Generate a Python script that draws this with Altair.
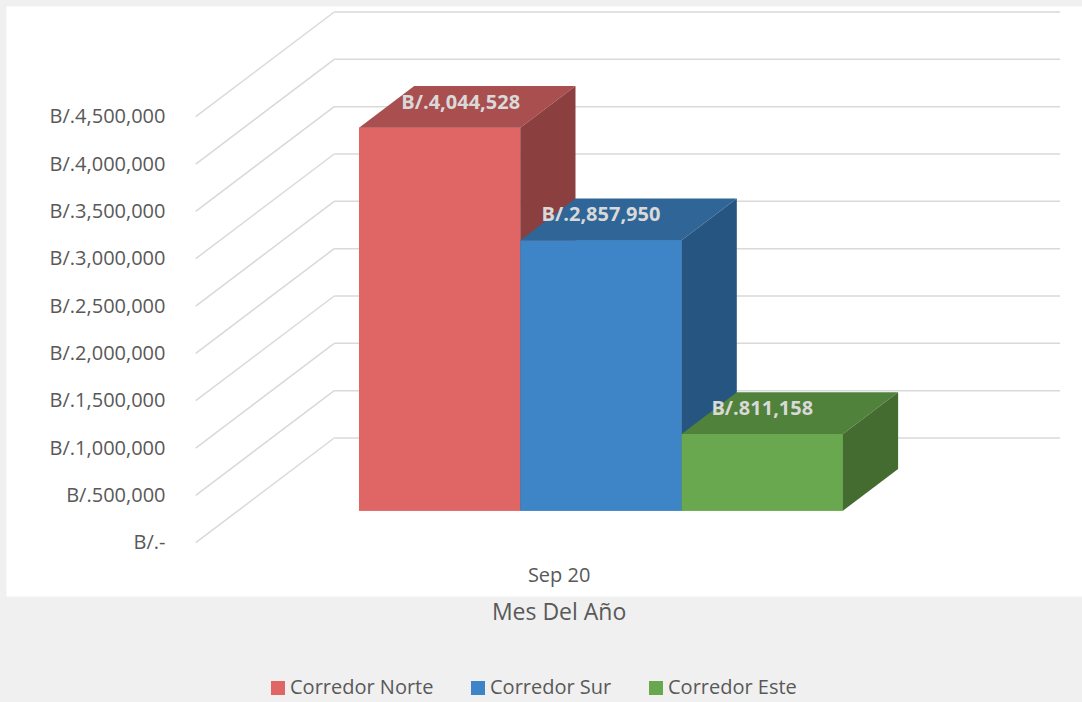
import altair as alt
import pandas as pd

# ---------------- data ----------------
series = ["Corredor Norte", "Corredor Sur", "Corredor Este"]
values = [4044528, 2857950, 811158]
month = "Sep 20"
y_ticks = [0, 500000, 1000000, 1500000, 2000000, 2500000, 3000000, 3500000, 4000000, 4500000]
front_colors = ["#E06666", "#3D85C6", "#6AA84F"]
top_colors = ["#A94F4F", "#2F6697", "#51823B"]
side_colors = ["#8C3F3F", "#265581", "#446C31"]

# ---------------- 3D projection geometry ----------------
W, H = 1076, 590
PX_PER_UNIT = 161.3            # pixels per bar width
PX_PER_VAL = 94.667 / 1e6      # pixels per value unit
DX = 138.5 / PX_PER_UNIT       # full depth, x units
DY = 104.7 / PX_PER_VAL        # full depth, value units
D1, D2 = 0.3056, 0.704         # bar depth span (front, back)
FLOOR_L, FLOOR_R = -0.75, 3.75
ORIGIN_X = 316.7 - 6
ZERO_Y = 542.7 - 6
x_dom = [-ORIGIN_X / PX_PER_UNIT, (W - ORIGIN_X) / PX_PER_UNIT]
y_dom = [-(H - ZERO_Y) / PX_PER_VAL, ZERO_Y / PX_PER_VAL]
xs = alt.Scale(domain=x_dom, nice=False, zero=False)
ys = alt.Scale(domain=y_dom, nice=False, zero=False)

FONT = "Open Sans"
TXT = "#595959"
GRID = "#D9D9D9"

X_AXIS = alt.Axis(
    title="Mes Del Año", values=[1.5], labelExpr=f"'{month}'",
    orient="bottom", offset=-31, domain=False, ticks=False, grid=False,
    labelPadding=0, labelFont=FONT, labelFontSize=20, labelColor=TXT,
    titleFont=FONT, titleFontSize=23, titleFontWeight="normal", titleColor=TXT,
    titleX=552.6, titleY=47, titleBaseline="middle", titleAlign="center")
Y_AXIS = alt.Axis(
    title=None, values=y_ticks, orient="left", offset=-190,
    domain=False, ticks=False, grid=False, labelPadding=31,
    labelFont=FONT, labelFontSize=20, labelColor=TXT,
    labelExpr="datum.value == 0 ? 'B/.-' : 'B/.' + format(datum.value, ',')")


def X(field="x"):
    return alt.X(f"{field}:Q", scale=xs, axis=X_AXIS)


def Y(field="y"):
    return alt.Y(f"{field}:Q", scale=ys, axis=Y_AXIS)


# ---------------- gridlines (floor diagonals + back wall) ----------------
grid_rows = []
for v in y_ticks:
    grid_rows.append(dict(x=FLOOR_L, x2=FLOOR_L + DX, y=v, y2=v + DY))
    grid_rows.append(dict(x=FLOOR_L + DX, x2=FLOOR_R + DX, y=v + DY, y2=v + DY))
grid_df = pd.DataFrame(grid_rows)

grid = alt.Chart(grid_df).mark_rule(color=GRID, strokeWidth=1.5).encode(
    x=X(), x2="x2:Q", y=Y(), y2="y2:Q",
)

# ---------------- bars ----------------
front_rows, face_rows, label_rows = [], [], []
label_shift = [0.13, 0.0, 0.0]
for i, (s, v) in enumerate(zip(series, values)):
    xa = i + D1 * DX
    xb = xa + (D2 - D1) * DX
    xc = i + 1 + D1 * DX
    xd = xc + (D2 - D1) * DX
    yF = v + D1 * DY
    yB = v + D2 * DY
    front_rows.append(dict(series=s, x=xa, x2=xc, y=D1 * DY, y2=yF))
    fid = f"{i}_front"
    face_rows += [dict(bar=i, face=fid, fill=front_colors[i], x=xa, y=yF, y2=D1 * DY),
                  dict(bar=i, face=fid, fill=front_colors[i], x=xc, y=yF, y2=D1 * DY)]
    fid = f"{i}_top"
    face_rows += [dict(bar=i, face=fid, fill=top_colors[i], x=xa, y=yF, y2=yF),
                  dict(bar=i, face=fid, fill=top_colors[i], x=xb, y=yB, y2=yF),
                  dict(bar=i, face=fid, fill=top_colors[i], x=xc, y=yB, y2=yF),
                  dict(bar=i, face=fid, fill=top_colors[i], x=xd, y=yB, y2=yB)]
    fid = f"{i}_side"
    face_rows += [dict(bar=i, face=fid, fill=side_colors[i], x=xc, y=yF, y2=D1 * DY),
                  dict(bar=i, face=fid, fill=side_colors[i], x=xd, y=yB, y2=D2 * DY)]
    label_rows.append(dict(x=i + 0.5 + D1 * DX + label_shift[i],
                           y=v + (D1 + D2) / 2 * DY, text=f"B/.{v:,}"))

front_df = pd.DataFrame(front_rows)
face_df = pd.DataFrame(face_rows)
label_df = pd.DataFrame(label_rows)

fronts = alt.Chart(front_df).mark_rect().encode(
    x=X(), x2="x2:Q", y=Y(), y2="y2:Q",
    color=alt.Color("series:N", scale=alt.Scale(domain=series, range=front_colors),
                    legend=alt.Legend(
                        title=None, orient="none", legendX=262, legendY=672,
                        direction="horizontal", symbolType="square", symbolSize=196,
                        symbolStrokeWidth=0, symbolOpacity=1, labelFont=FONT,
                        labelFontSize=20, labelColor=TXT, labelOffset=2,
                        columnPadding=34)),
)

bar_layers = []
for i in range(len(series)):
    bar_layers.append(
        alt.Chart(face_df).transform_filter(alt.datum.bar == i)
        .mark_area(orient="vertical", interpolate="linear")
        .encode(
            x=X(), y=Y(), y2="y2:Q",
            detail="face:N",
            fill=alt.Fill("fill:N", scale=None),
        )
    )

labels = alt.Chart(label_df).mark_text(
    font=FONT, fontSize=20, fontWeight="bold", color="#D9D9D9",
    baseline="middle", align="center", dy=-4,
).encode(x=X(), y=Y(), text="text:N")

chart = alt.layer(grid, fronts, *bar_layers, labels).properties(
    width=W, height=H,
    autosize=alt.AutoSizeParams(type="none"),
    padding={"left": 6, "top": 6, "right": 0, "bottom": 106},
    background="#F0F0F0",
).configure_view(fill="white", stroke="transparent")

chart.save("out.html", embed_options={"renderer": "svg", "actions": False})
